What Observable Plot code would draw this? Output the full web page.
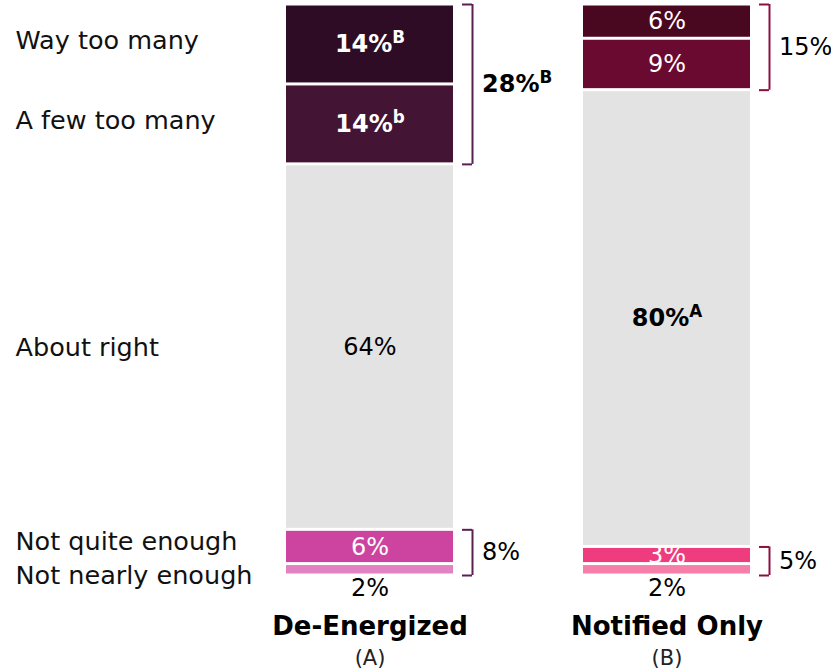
<!DOCTYPE html>
<html><head><meta charset="utf-8">
<script src="https://cdn.jsdelivr.net/npm/d3@7"></script>
<script src="https://cdn.jsdelivr.net/npm/@observablehq/plot@0.6"></script>
<style>
html,body{margin:0;padding:0;background:#fff;}
#chart{width:831px;height:669px;}
</style></head><body><div id="chart"></div>
<script>
const categories = ["De-Energized", "Notified Only"];
const groupLetters = ["(A)", "(B)"];
const responses = ["Way too many", "A few too many", "About right", "Not quite enough", "Not nearly enough"];
const deEnergized = [14, 14, 64, 6, 2];
const notifiedOnly = [6, 9, 80, 3, 2];
const deEnergizedSig = ["B", "b", "", "", ""];
const notifiedOnlySig = ["", "", "A", "", ""];
const tooManyNet = [28, 15];
const tooManyNetSig = ["B", ""];
const notEnoughNet = [8, 5];
const deEnergizedColors = ["#2e0c25", "#431433", "#e3e3e3", "#cc44a0", "#e282c3"];
const notifiedOnlyColors = ["#4a0820", "#6b0a30", "#e3e3e3", "#ee3c7e", "#f67fa9"];
const labelInk = ["#ffffff", "#ffffff", "#000000", "#ffffff", "#000000"];
const bracketColors = ["#5c1f50", "#8b1040"];

const series = [deEnergized, notifiedOnly];
const sigs = [deEnergizedSig, notifiedOnlySig];
const palettes = [deEnergizedColors, notifiedOnlyColors];

const rows = [];
categories.forEach((cat, c) => {
  let acc = 0;
  responses.forEach((r, i) => {
    const v = series[c][i];
    const s = sigs[c][i];
    rows.push({category: cat, response: r, value: v, y1: acc, y2: acc + v, mid: acc + v / 2,
      fill: palettes[c][i], ink: labelInk[i], label: v + "%" + (s ? "^" + s : ""), bold: !!s, inside: v >= 3});
    acc += v;
  });
});

const brackets = [];
categories.forEach((cat, c) => {
  const cr = rows.filter(d => d.category === cat);
  brackets.push({category: cat, y1: cr[0].y1, y2: cr[1].y2, label: tooManyNet[c] + "%" + (tooManyNetSig[c] ? "^" + tooManyNetSig[c] : ""), bold: !!tooManyNetSig[c], color: bracketColors[c]});
  brackets.push({category: cat, y1: cr[3].y1, y2: cr[4].y2, label: notEnoughNet[c] + "%", bold: false, color: bracketColors[c]});
});
const deRows = rows.filter(d => d.category === categories[0]);

const FONT = "DejaVu Sans";
const plot = Plot.plot({
  width: 831, height: 669,
  margin: 0,
  x: {domain: categories, range: [286, 750], paddingInner: 0.438, paddingOuter: 0, axis: null},
  y: {domain: [0, 100], range: [4, 575], axis: null},
  color: {type: "identity"},
  style: {fontFamily: FONT, background: "white", overflow: "visible"},
  marks: [
    Plot.barY(rows, {x: "category", y1: "y1", y2: "y2", fill: "fill", insetTop: 1.5, insetBottom: 1.5}),
    Plot.text(rows.filter(d => d.inside && !d.bold), {x: "category", y: "mid", text: "label", fill: "ink", fontSize: 24}),
    Plot.text(rows.filter(d => d.inside && d.bold), {x: "category", y: "mid", text: "label", fill: "ink", fontSize: 24, fontWeight: "bold"}),
    Plot.text(rows.filter(d => !d.inside), {x: "category", y: "mid", text: "label", fill: "ink", fontSize: 24, dy: 19}),
    Plot.text(deRows.slice(0, 2), {frameAnchor: "left", y: "mid", text: "response", dx: 15, dy: -4, textAnchor: "start", fontSize: 25.5, fill: "#111"}),
    Plot.text(deRows.slice(2, 3), {frameAnchor: "left", y: "mid", text: "response", dx: 15, dy: 1, textAnchor: "start", fontSize: 25.5, fill: "#111"}),
    Plot.text(deRows.slice(3, 4), {frameAnchor: "left", y: "mid", text: "response", dx: 15, dy: -5, textAnchor: "start", fontSize: 25.5, fill: "#111"}),
    Plot.text(deRows.slice(4, 5), {frameAnchor: "left", y: "mid", text: "response", dx: 15, dy: 6, textAnchor: "start", fontSize: 25.5, fill: "#111"}),
    Plot.ruleX(brackets, {x: "category", y1: "y1", y2: "y2", stroke: "color", strokeWidth: 2, dx: 102.5}),
    Plot.tickY(brackets, {x: "category", y: "y1", stroke: "color", strokeWidth: 2, insetLeft: 157, dx: 19}),
    Plot.tickY(brackets, {x: "category", y: "y2", stroke: "color", strokeWidth: 2, insetLeft: 157, dx: 19}),
    Plot.text(brackets.filter(d => d.bold), {x: "category", y: d => (d.y1 + d.y2) / 2, text: "label", textAnchor: "start", dx: 112, fontSize: 24, fontWeight: "bold"}),
    Plot.text(brackets.filter(d => !d.bold), {x: "category", y: d => (d.y1 + d.y2) / 2, text: "label", textAnchor: "start", dx: 112, fontSize: 24}),
    Plot.text(categories, {x: d => d, text: d => d, frameAnchor: "bottom", lineAnchor: "middle", dy: -43, fontSize: 26, fontWeight: "bold"}),
    Plot.text(categories, {x: d => d, text: (d, i) => groupLetters[i], frameAnchor: "bottom", lineAnchor: "middle", dy: -11, fontSize: 21, fill: "#222"})
  ]
});
document.getElementById("chart").appendChild(plot);

// render "^x" as a superscript, keeping the main number centred
d3.select(plot).selectAll("text").each(function() {
  const t = this.textContent;
  if (!t.includes("^")) return;
  const [base, sup] = t.split("^");
  const g = this.closest("g");
  const anchor = (g && g.getAttribute("text-anchor")) || this.getAttribute("text-anchor") || "start";
  this.textContent = "";
  const s = d3.select(this);
  s.append("tspan").text(base);
  const st = s.append("tspan").attr("dy", "-0.55em").attr("font-size", "0.7em").text(sup);
  if (anchor === "middle") {
    const w = st.node().getComputedTextLength();
    if (this.hasAttribute("x")) this.setAttribute("x", +this.getAttribute("x") + w / 2);
    else this.setAttribute("transform", `translate(${w / 2},0) ` + (this.getAttribute("transform") || ""));
  }
});
</script></body></html>
